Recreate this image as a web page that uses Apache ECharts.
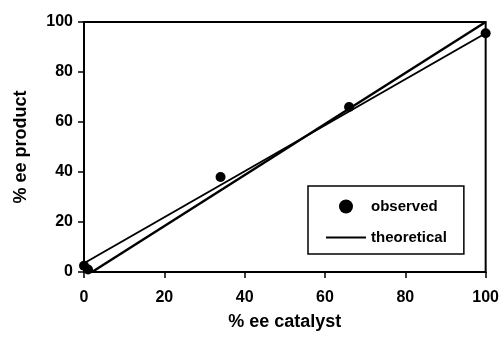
<!DOCTYPE html>
<html>
<head>
<meta charset="utf-8">
<script src="https://cdn.jsdelivr.net/npm/echarts@6/dist/echarts.min.js"></script>
<style>
  html, body { margin: 0; padding: 0; background: #fff; }
  #chart { width: 502px; height: 337px; }
</style>
</head>
<body>
<div id="chart"></div>
<script>
  // observed points (% ee catalyst, % ee product)
  var observedX = [0, 1, 34, 66, 100]
  var observedY = [2.5, 1, 38, 66, 95.5]
  // theoretical curve end points
  var theoX = [2, 100]
  var theoY = [0, 100]
  // linear fit through the observed points
  var fitX = [0, 100]
  var fitY = [3.5, 95.5]
  var axisTicks = [0, 20, 40, 60, 80, 100]

  function pairs(xs, ys) {
    var out = []
    for (var i = 0; i < xs.length; i++) {
      out.push([xs[i], ys[i]])
    }
    return out
  }

  var chart = echarts.init(document.getElementById('chart'))
  var font = 'Liberation Sans, Arial, sans-serif'

  var axisCommon = {
    type: 'value',
    min: axisTicks[0],
    max: axisTicks[axisTicks.length - 1],
    interval: 20,
    nameLocation: 'middle',
    nameTextStyle: {color: '#000', fontSize: 18, fontWeight: 'bold', fontFamily: font},
    axisLine: {show: true, lineStyle: {color: '#000', width: 2}},
    axisTick: {show: true, length: 6, lineStyle: {color: '#000', width: 1.5}},
    splitLine: {show: false}
  }

  chart.setOption({
    animation: false,
    grid: {
      left: 84,
      right: 15,
      top: 22,
      bottom: 65,
      show: true,
      borderColor: '#000',
      borderWidth: 2
    },
    legend: {
      left: 308,
      top: 186,
      orient: 'vertical',
      data: [
        {name: 'observed'},
        {name: 'theoretical', itemStyle: {opacity: 0}}
      ],
      itemWidth: 40,
      itemHeight: 14,
      itemGap: 16,
      padding: [13, 17, 9, 17],
      borderColor: '#000',
      borderWidth: 1.5,
      backgroundColor: '#fff',
      textStyle: {color: '#000', fontSize: 15, fontWeight: 'bold', fontFamily: font}
    },
    xAxis: Object.assign({}, axisCommon, {
      name: '% ee catalyst',
      nameGap: 41,
      axisLabel: {color: '#000', fontSize: 16, fontWeight: 'bold', fontFamily: font, margin: 18}
    }),
    yAxis: Object.assign({}, axisCommon, {
      name: '% ee product',
      nameGap: 54,
      axisLabel: {color: '#000', fontSize: 16, fontWeight: 'bold', fontFamily: font, margin: 11}
    }),
    series: [
      {
        name: 'fit',
        type: 'line',
        data: pairs(fitX, fitY),
        symbol: 'none',
        itemStyle: {color: '#000'},
        lineStyle: {color: '#000', width: 2}
      },
      {
        name: 'theoretical',
        type: 'line',
        data: pairs(theoX, theoY),
        symbol: 'none',
        itemStyle: {color: '#000'},
        lineStyle: {color: '#000', width: 2.5}
      },
      {
        name: 'observed',
        type: 'scatter',
        data: pairs(observedX, observedY),
        symbol: 'circle',
        symbolSize: 10,
        clip: false,
        itemStyle: {color: '#000', opacity: 1}
      }
    ]
  })
</script>
</body>
</html>
